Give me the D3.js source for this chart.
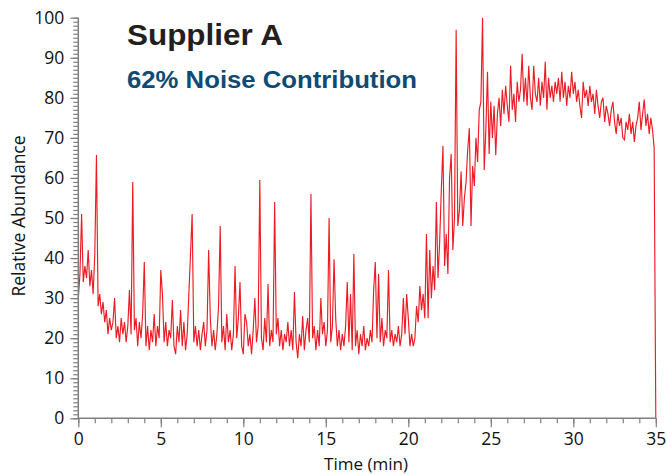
<!DOCTYPE html>
<html>
<head>
<meta charset="utf-8">
<script src="https://cdn.jsdelivr.net/npm/d3@7"></script>
<style>
html,body{margin:0;padding:0;background:#fff;}
svg{display:block;}
</style>
</head>
<body>
<svg id="chart" width="667" height="474"></svg>
<script>
// ---- data ----
const titleText = "Supplier A";
const subtitleText = "62% Noise Contribution";
const xLabel = "Time (min)";
const yLabel = "Relative Abundance";
const xTicks = [0, 5, 10, 15, 20, 25, 30, 35];
const yTicks = [0, 10, 20, 30, 40, 50, 60, 70, 80, 90, 100];
const scanStart = 0;      // min
const scanInterval = 0.1; // min between scans
// relative abundance, one row per minute (10 scans each)
const abundance = [
  30, 36, 51, 34, 38, 35, 42, 33, 37, 31,
  41, 65.7, 28, 31, 26, 29, 24, 27, 21, 25,
  22, 24, 30, 20, 23, 19, 25, 21, 24, 19,
  23, 32, 21, 59, 22, 25, 18, 24, 20, 26,
  39, 18, 23, 17, 22, 19, 26, 18, 23, 20,
  37, 31, 19, 24, 18, 22, 20, 29.5, 18, 16,
  23, 19, 27, 18, 24, 17, 21, 31, 41, 51,
  19, 23, 18, 22, 17, 21, 24, 18, 22, 42,
  25, 18, 22, 17, 21, 28, 48, 19, 23, 17,
  26, 19, 22, 17, 21, 38, 20, 25, 34, 18,
  16, 26, 24, 18, 21, 16, 22, 30, 19, 23,
  59.5, 20, 17, 25, 19, 33.5, 18, 22, 19, 54,
  21, 25, 18, 22, 17, 21, 19, 24, 18, 22,
  17, 31.5, 19, 15, 21, 18, 25.5, 17, 22, 25,
  19, 56, 20, 23, 17, 22, 18, 30, 21, 24,
  18, 22, 50, 19, 23, 39.7, 25, 18, 22, 17,
  21, 18, 23, 34, 19, 31, 17, 41, 18, 22,
  16, 21, 18, 23, 17, 20, 18, 22, 19, 32,
  39, 20, 36, 19, 25, 18, 22, 20, 37, 19,
  22, 18, 21, 19, 23, 18, 21, 30, 21, 31,
  25, 18, 21, 18, 20, 28, 24, 33, 27, 31,
  25, 46, 25, 42, 30, 38, 32, 54, 35, 44,
  57, 68, 38, 46, 36, 60, 66, 42, 50, 97,
  48, 52, 61.6, 48, 55, 59, 67, 72.4, 48, 63,
  58, 70, 64, 77, 79, 100, 62, 72, 86.5, 66,
  79, 70, 78, 65.7, 76, 80, 73, 82, 76, 83,
  78, 74, 88, 77, 81, 74, 84, 79, 82, 91,
  79, 85, 78, 88, 80, 77, 88, 81, 79, 85,
  78, 84, 80, 89, 77, 85, 80, 83, 79, 84,
  81, 85, 79, 86.5, 80, 84, 78, 83, 80, 86.5,
  81, 84, 79, 82, 78, 75, 84, 80, 82, 78,
  83, 79, 81, 76, 82, 78, 75, 79, 80, 74,
  78, 76, 73, 77, 79, 74, 71, 76, 73, 75,
  70, 69.5, 74, 72, 76, 71, 74, 69, 73, 75,
  79, 72, 76, 79.6, 73, 76, 71, 75, 72, 67.5,
  0
];

// ---- layout ----
const svg = d3.select("#chart");
const plotLeft = 78.3, plotRight = 655.8, plotTop = 17.7, plotBottom = 418.3;
const axisColor = "#7f7f7f";
const tickFont = "'Open Sans', 'Noto Sans', sans-serif";

const x = d3.scaleLinear().domain([0, 35]).range([plotLeft, plotRight]);
const y = d3.scaleLinear().domain([0, 100]).range([plotBottom, plotTop]);

const series = abundance.map((v, i) => ({ t: +(scanStart + i * scanInterval).toFixed(2), v }));

// trace
const line = d3.line().x(d => x(d.t)).y(d => y(d.v));
svg.append("path")
  .datum(series)
  .attr("d", line)
  .attr("fill", "none")
  .attr("stroke", "#ed1c24")
  .attr("stroke-width", 1.15)
  .attr("stroke-linejoin", "miter");

// y axis minor ticks
const yAxisMinor = d3.axisLeft(y).tickValues(d3.range(0, 101, 1)).tickSize(5).tickFormat("");
const gyMinor = svg.append("g").attr("transform", `translate(${plotLeft},0)`).call(yAxisMinor);
// y axis major
const yAxis = d3.axisLeft(y).tickValues(yTicks).tickSize(8).tickPadding(6).tickFormat(d3.format("d"));
const gy = svg.append("g").attr("transform", `translate(${plotLeft},0)`).call(yAxis);

// x axis minor
const xAxisMinor = d3.axisBottom(x).tickValues(d3.range(0, 36, 1)).tickSize(5).tickFormat("");
const gxMinor = svg.append("g").attr("transform", `translate(0,${plotBottom})`).call(xAxisMinor);
const xAxis = d3.axisBottom(x).tickValues(xTicks).tickSize(9).tickPadding(5).tickFormat(d3.format("d"));
const gx = svg.append("g").attr("transform", `translate(0,${plotBottom})`).call(xAxis);

[gyMinor, gy, gxMinor, gx].forEach(g => {
  g.select(".domain").attr("stroke", axisColor).attr("stroke-width", 1.5);
  g.selectAll(".tick line").attr("stroke", axisColor).attr("stroke-width", 1.2);
  g.selectAll(".tick text")
    .attr("fill", "#111")
    .style("font-family", tickFont)
    .style("font-size", "17.5px");
});
gy.select(".domain").attr("d", `M0,${y(0)}V${y(100)}`);
gyMinor.select(".domain").remove();
gxMinor.select(".domain").remove();
gx.select(".domain").attr("d", `M${plotLeft},0H${plotRight}`);

// axis labels
svg.append("text")
  .attr("x", 366).attr("y", 470)
  .attr("text-anchor", "middle")
  .style("font-family", tickFont)
  .style("font-size", "17px")
  .attr("fill", "#111")
  .text(xLabel);

svg.append("text")
  .attr("transform", "translate(25,216) rotate(-90)")
  .attr("text-anchor", "middle")
  .style("font-family", tickFont)
  .style("font-size", "17.5px")
  .attr("fill", "#111")
  .text(yLabel);

// titles
svg.append("text")
  .attr("x", 127).attr("y", 45)
  .style("font-family", "'Liberation Sans', Arial, sans-serif")
  .style("font-weight", "bold")
  .style("font-size", "30px")
  .attr("textLength", 156)
  .attr("lengthAdjust", "spacingAndGlyphs")
  .attr("fill", "#231f20")
  .text(titleText);

svg.append("text")
  .attr("x", 127).attr("y", 88)
  .style("font-family", "'Liberation Sans', Arial, sans-serif")
  .style("font-weight", "bold")
  .style("font-size", "24px")
  .attr("textLength", 290)
  .attr("lengthAdjust", "spacingAndGlyphs")
  .attr("fill", "#0e4a73")
  .text(subtitleText);
</script>
</body>
</html>
